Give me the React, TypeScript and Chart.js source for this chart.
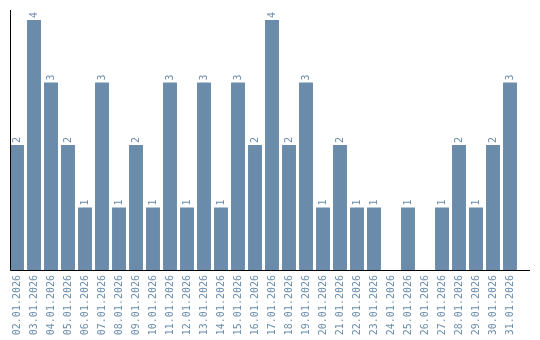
import React, { useEffect, useRef } from "react";
import { Chart, registerables } from "chart.js";

Chart.register(...registerables);

const categories: string[] = [
  "02.01.2026", "03.01.2026", "04.01.2026", "05.01.2026", "06.01.2026",
  "07.01.2026", "08.01.2026", "09.01.2026", "10.01.2026", "11.01.2026",
  "12.01.2026", "13.01.2026", "14.01.2026", "15.01.2026", "16.01.2026",
  "17.01.2026", "18.01.2026", "19.01.2026", "20.01.2026", "21.01.2026",
  "22.01.2026", "23.01.2026", "24.01.2026", "25.01.2026", "26.01.2026",
  "27.01.2026", "28.01.2026", "29.01.2026", "30.01.2026", "31.01.2026",
];

const counts: number[] = [
  2, 4, 3, 2, 1, 3, 1, 2, 1, 3,
  1, 3, 1, 3, 2, 4, 2, 3, 1, 2,
  1, 1, 0, 1, 0, 1, 2, 1, 2, 3,
];

const BAR_COLOR = "rgb(106,140,170)";
const TEXT_COLOR = "rgb(106,140,172)";
const FONT_FAMILY = "'DejaVu Sans Mono', monospace";

const axesPlugin = {
  id: "axesLines",
  afterDatasetsDraw(chart: any) {
    const { ctx, chartArea } = chart;
    ctx.save();
    ctx.strokeStyle = "#000";
    ctx.lineWidth = 1;
    const x0 = Math.round(chartArea.left + 1.5) + 0.5;
    const yb = Math.round(chartArea.bottom) + 0.5;
    ctx.beginPath();
    ctx.moveTo(x0, chartArea.top);
    ctx.lineTo(x0, yb);
    ctx.lineTo(chartArea.right + 11.5, yb);
    ctx.stroke();
    ctx.restore();
  },
};

const valueLabelPlugin = {
  id: "valueLabels",
  afterDatasetsDraw(chart: any) {
    const { ctx } = chart;
    const meta = chart.getDatasetMeta(0);
    const data = chart.data.datasets[0].data as number[];
    ctx.save();
    ctx.fillStyle = TEXT_COLOR;
    ctx.font = `10px ${FONT_FAMILY}`;
    ctx.textAlign = "left";
    ctx.textBaseline = "middle";
    meta.data.forEach((bar: any, i: number) => {
      const v = data[i];
      if (!v) return;
      ctx.save();
      ctx.translate(bar.x, bar.y - 2);
      ctx.rotate(-Math.PI / 2);
      ctx.fillText(String(v), 0, 0);
      ctx.restore();
    });
    ctx.restore();
  },
};

export default function App() {
  const canvasRef = useRef<HTMLCanvasElement | null>(null);

  useEffect(() => {
    if (!canvasRef.current) return;
    const chart = new Chart(canvasRef.current, {
      type: "bar",
      data: {
        labels: categories,
        datasets: [
          {
            data: counts,
            backgroundColor: BAR_COLOR,
            borderWidth: 0,
            barPercentage: 0.82,
            categoryPercentage: 1,
          },
        ],
      },
      options: {
        animation: false,
        responsive: false,
        maintainAspectRatio: false,
        layout: { padding: { top: 10, left: 8.5, right: 21.5, bottom: 0 } },
        plugins: {
          legend: { display: false },
          tooltip: { enabled: false },
        },
        scales: {
          x: {
            grid: { display: false },
            border: { display: false },
            afterFit: (scale: any) => {
              scale.height = 70;
            },
            ticks: {
              autoSkip: false,
              minRotation: 90,
              maxRotation: 90,
              padding: -3,
              color: TEXT_COLOR,
              font: { family: FONT_FAMILY, size: 10 },
            },
          },
          y: {
            display: false,
            min: 0,
            max: 4.16,
          },
        },
      },
      plugins: [axesPlugin, valueLabelPlugin],
    });
    return () => chart.destroy();
  }, []);

  return (
    <div style={{ position: "fixed", left: 0, top: 0, width: 540, height: 340, background: "#fff" }}>
      <canvas ref={canvasRef} width={540} height={340} style={{ width: 540, height: 340 }} />
    </div>
  );
}
